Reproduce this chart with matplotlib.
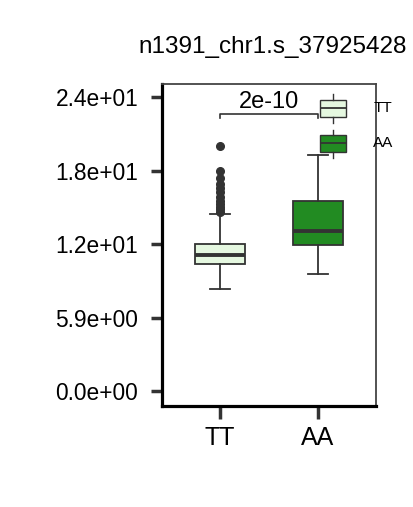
import matplotlib
matplotlib.use("Agg")
import matplotlib.pyplot as plt

plt.rcParams['font.family'] = ['Liberation Sans', 'DejaVu Sans']

title = "n1391_chr1.s_37925428"
groups = ["TT", "AA"]
colors = ["#e5f8e0", "#228b22"]
edge = "#333333"

# box stats: whislo, q1, median, q3, whishi
whislo = [8.2, 9.4]
q1 = [10.2, 11.7]
med = [10.9, 12.9]
q3 = [11.85, 15.3]
whishi = [14.2, 19.0]
outliers_tt = [19.7, 17.7, 17.1, 16.6, 16.3, 16.0, 15.6, 15.3, 15.05, 14.8, 14.6, 14.4]
fliers = [outliers_tt, []]

# small key boxes drawn in the top right corner
key_whislo = [21.5, 18.7]
key_q1 = [22.0, 19.2]
key_med = [22.7, 19.9]
key_q3 = [23.4, 20.6]
key_whishi = [23.9, 21.0]

pvalue = "2e-10"
bracket_y = 22.25
bracket_drop = 0.35

yticks = [0.0, 5.9, 11.8, 17.7, 23.6]
ytick_labels = ["0.0e+00", "5.9e+00", "1.2e+01", "1.8e+01", "2.4e+01"]

fig = plt.figure(figsize=(4.13, 5.07), dpi=100)
ax = fig.add_axes([0.392, 0.199, 0.518, 0.635])

pos = [1, 2]
stats = []
for i in range(2):
    stats.append(dict(whislo=whislo[i], q1=q1[i], med=med[i], q3=q3[i],
                      whishi=whishi[i], fliers=fliers[i]))
bp = ax.bxp(stats, positions=pos, widths=0.51, patch_artist=True,
            showfliers=True, capwidths=0.2,
            boxprops=dict(edgecolor=edge, linewidth=1.3),
            medianprops=dict(color=edge, linewidth=2.8),
            whiskerprops=dict(color=edge, linewidth=1.3),
            capprops=dict(color=edge, linewidth=1.3),
            flierprops=dict(marker='o', markerfacecolor=edge, markeredgecolor=edge,
                            markersize=5.5))
for patch, c in zip(bp['boxes'], colors):
    patch.set_facecolor(c)

# key boxes
key_stats = []
for i in range(2):
    key_stats.append(dict(whislo=key_whislo[i], q1=key_q1[i], med=key_med[i],
                          q3=key_q3[i], whishi=key_whishi[i], fliers=[]))
kb = ax.bxp(key_stats, positions=[2.155, 2.155], widths=0.27, patch_artist=True,
            showcaps=False, manage_ticks=False,
            boxprops=dict(edgecolor=edge, linewidth=1.0),
            medianprops=dict(color=edge, linewidth=1.3),
            whiskerprops=dict(color=edge, linewidth=1.0))
for patch, c in zip(kb['boxes'], colors):
    patch.set_facecolor(c)
for g, m in zip(groups, key_med):
    ax.text(2.565, m, g, fontsize=11, va='center', ha='left', clip_on=False)

# significance bracket
ax.plot([pos[0], pos[0], pos[1], pos[1]],
        [bracket_y - bracket_drop, bracket_y, bracket_y, bracket_y - bracket_drop],
        color=edge, linewidth=1.2)
ax.text((pos[0] + pos[1]) / 2, bracket_y + 0.05, pvalue, ha='center', va='bottom',
        fontsize=17)

ax.set_xlim(0.408, 2.59)
ax.set_ylim(-1.2, 24.65)
ax.set_xticks(pos)
ax.set_xticklabels(groups, fontsize=18)
ax.set_yticks(yticks)
ax.set_yticklabels(ytick_labels, fontsize=16.4)
ax.tick_params(axis='y', length=8, width=2.5, color=edge, pad=9)
ax.tick_params(axis='x', length=9, width=2.5, color=edge, pad=5)

for s in ['left', 'bottom']:
    ax.spines[s].set_color('black')
    ax.spines[s].set_linewidth(2.3)
for s in ['top', 'right']:
    ax.spines[s].set_color('#444444')
    ax.spines[s].set_linewidth(1.3)

fig.text(0.66, 0.907, title, ha='center', va='center', fontsize=17.5)

fig.savefig("out.png", dpi=100)
